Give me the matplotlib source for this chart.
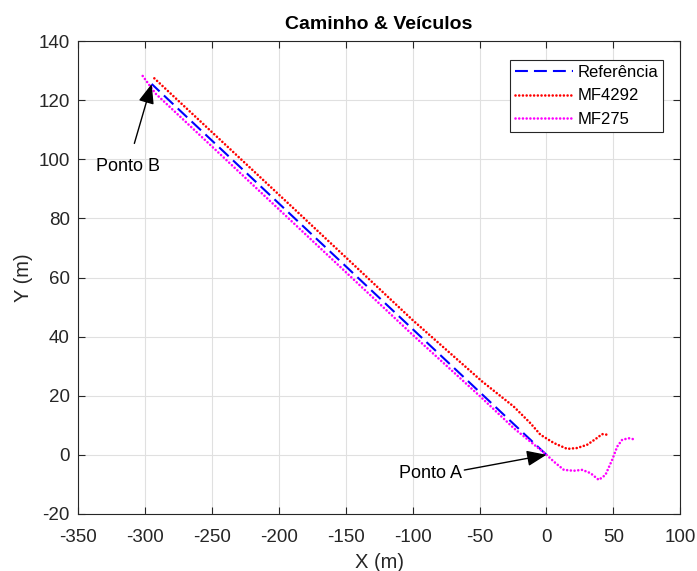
import matplotlib
matplotlib.use("Agg")
import matplotlib.pyplot as plt

plt.rcParams['font.family'] = ['Liberation Sans', 'DejaVu Sans']
plt.rcParams['axes.unicode_minus'] = False  # hifen simples como no original

# caminho de referencia (reta de A ate B)
ref_x = [0, -295]
ref_y = [0, 125.5]

# MF4292
mf4292_x = [-293, -188, -100, -48, -24.4, -12, -4.5, 5.5, 15.5, 23, 30.4, 36.6, 41.6, 45.4]
mf4292_y = [127.4, 83.0, 45.6, 24.8, 16.3, 10.7, 6.8, 4.0, 2.0, 2.3, 3.4, 5.3, 7.0, 6.8]

# MF275
mf275_x = [-301.7, -292, -192.7, -100, -49.4, -24.4, -0.7, 5.5, 13, 20.4, 26.7, 32.9, 39.1, 44.1,
           49.1, 52.9, 56.6, 61.6, 64.8]
mf275_y = [128.2, 122.2, 80.0, 40.6, 19.7, 9.0, 0.3, -2.3, -5.1, -5.4, -5.1, -6.2, -8.5, -6.8,
           -1.7, 2.8, 5.1, 5.6, 5.3]

xticks = list(range(-350, 101, 50))
yticks = list(range(-20, 141, 20))

fig = plt.figure(figsize=(6.97, 5.71), dpi=100)
ax = fig.add_axes([0.112, 0.1, 0.864, 0.828])

ax.plot(ref_x, ref_y, color=(0, 0, 1), lw=1.5, dashes=(6.2, 2.9), label='Referência')
ax.plot(mf4292_x, mf4292_y, color=(1, 0, 0), lw=1.9, dashes=(0.01, 1.4),
        dash_capstyle='round', label='MF4292')
ax.plot(mf275_x, mf275_y, color=(1, 0, 1), lw=1.9, dashes=(0.01, 1.4),
        dash_capstyle='round', label='MF275')

# anotacoes dos pontos
seta = dict(arrowstyle='-|>,head_length=0.6,head_width=0.24', color='black', lw=1,
            mutation_scale=20, shrinkA=0, shrinkB=0)
ax.annotate('Ponto B', xy=(ref_x[1], ref_y[1]), xytext=(-313, 97.5),
            ha='center', va='center', fontsize=13,
            arrowprops=dict(seta, shrinkA=9))
ax.annotate('Ponto A', xy=(ref_x[0], ref_y[0]), xytext=(-87, -6.2),
            ha='center', va='center', fontsize=13,
            arrowprops=dict(seta, relpos=(1, 0.65)))

ax.set_xlim(-350, 100)
ax.set_ylim(-20, 140)
ax.set_xticks(xticks)
ax.set_yticks(yticks)
ax.grid(True, color='#e0e0e0', lw=0.8)
ax.set_axisbelow(True)
ax.tick_params(direction='in', top=True, right=True, labelsize=13.5, length=5,
               color='#262626', labelcolor='#262626', pad=6)
ax.tick_params(axis='x', pad=11)
for s in ax.spines.values():
    s.set_color('#262626')
    s.set_linewidth(0.8)

ax.set_title('Caminho & Veículos', fontsize=14, fontweight='bold', pad=8.5)
ax.set_xlabel('X (m)', fontsize=14.5, color='#262626', labelpad=5)
ax.set_ylabel('Y (m)', fontsize=14.5, color='#262626', labelpad=4)

leg = ax.legend(loc='upper right', bbox_to_anchor=(0.972, 0.96), fontsize=12,
                handlelength=3.5, handletextpad=0.25, borderpad=0.3,
                labelspacing=0.5, fancybox=False, framealpha=1, borderaxespad=0)
leg.get_frame().set_edgecolor('#262626')
leg.get_frame().set_linewidth(0.8)

fig.savefig('out.png', dpi=100)
